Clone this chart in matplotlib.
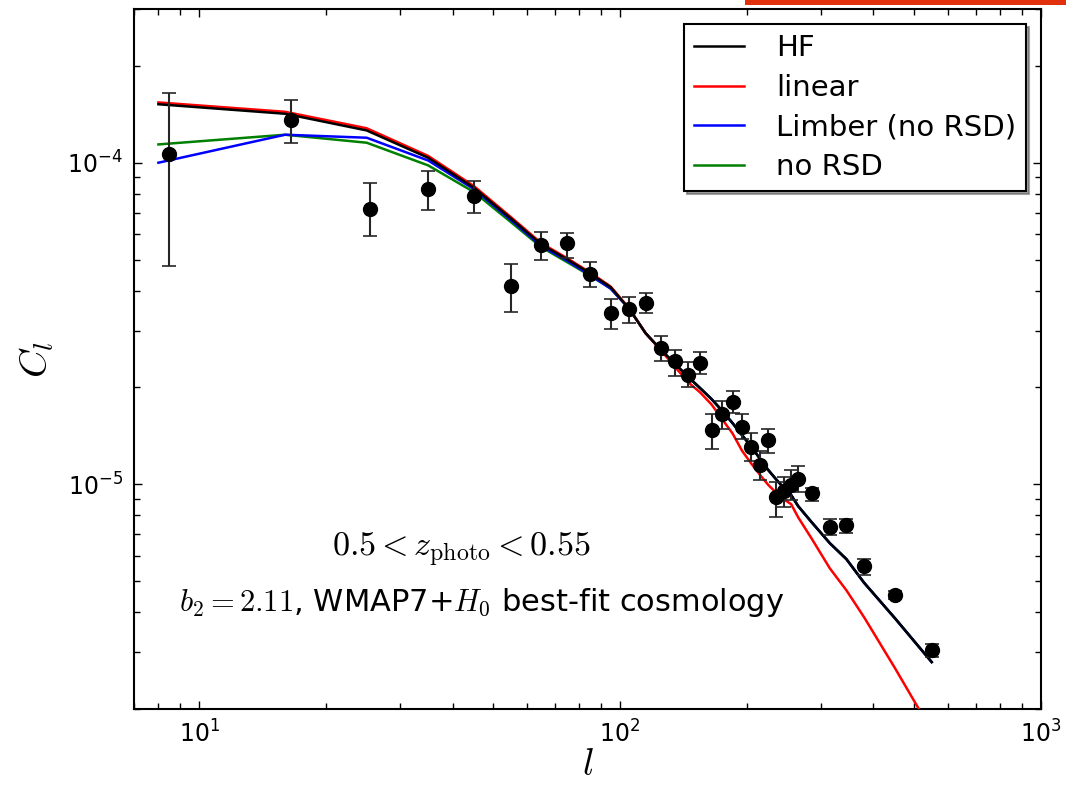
import matplotlib as mpl
mpl.use('Agg')
import matplotlib.pyplot as plt
from matplotlib.patches import Rectangle
import numpy as np

# measured angular power spectrum, one photo-z slice
ell = np.array([8.5, 16.5, 25.5, 35, 45, 55, 65, 75, 85, 95, 105, 115, 125, 135,
                145, 155, 165, 175, 185, 195, 205, 215, 225, 235, 245, 255, 265,
                285, 315, 345, 380, 450, 550])
cl = np.array([1.066e-4, 1.36e-4, 7.2e-5, 8.3e-5, 7.9e-5, 4.13e-5, 5.53e-5, 5.61e-5,
               4.5e-5, 3.4e-5, 3.5e-5, 3.67e-5, 2.65e-5, 2.41e-5, 2.19e-5, 2.39e-5,
               1.47e-5, 1.66e-5, 1.80e-5, 1.51e-5, 1.305e-5, 1.15e-5, 1.37e-5,
               9.14e-6, 9.53e-6, 9.93e-6, 1.042e-5, 9.38e-6, 7.38e-6, 7.48e-6,
               5.58e-6, 4.52e-6, 3.05e-6])
cl_lo = np.array([4.77e-5, 1.15e-4, 5.9e-5, 7.15e-5, 7.0e-5, 3.43e-5, 4.97e-5, 5.05e-5,
                  4.1e-5, 3.04e-5, 3.17e-5, 3.4e-5, 2.41e-5, 2.17e-5, 2.0e-5, 2.2e-5,
                  1.29e-5, 1.49e-5, 1.67e-5, 1.38e-5, 1.18e-5, 1.03e-5, 1.25e-5,
                  7.91e-6, 8.5e-6, 8.92e-6, 9.47e-6, 8.87e-6, 6.97e-6, 7.03e-6,
                  5.24e-6, 4.39e-6, 2.9e-6])
cl_hi = np.array([1.65e-4, 1.57e-4, 8.67e-5, 9.45e-5, 8.8e-5, 4.83e-5, 6.1e-5, 6.03e-5,
                  4.9e-5, 3.76e-5, 3.83e-5, 3.94e-5, 2.89e-5, 2.62e-5, 2.4e-5, 2.58e-5,
                  1.65e-5, 1.81e-5, 1.95e-5, 1.65e-5, 1.445e-5, 1.27e-5, 1.49e-5,
                  1.017e-5, 1.054e-5, 1.105e-5, 1.14e-5, 9.77e-6, 7.8e-6, 7.82e-6,
                  5.85e-6, 4.65e-6, 3.18e-6])

# model predictions
ell_model = np.array([8, 16, 25, 35, 45, 55, 65, 75, 85, 95, 105, 115, 125, 135,
                      145, 155, 165, 175, 185, 195, 205, 215, 225, 235, 245, 255,
                      265, 285, 315, 345, 380, 450, 550])
cl_hf = np.array([1.52e-4, 1.42e-4, 1.26e-4, 1.036e-4, 8.35e-5, 6.71e-5, 5.57e-5,
                  5.0e-5, 4.52e-5, 4.10e-5, 3.52e-5, 2.95e-5, 2.62e-5, 2.37e-5,
                  2.16e-5, 1.99e-5, 1.84e-5, 1.69e-5, 1.55e-5, 1.42e-5, 1.31e-5,
                  1.20e-5, 1.107e-5, 1.035e-5, 9.73e-6, 9.25e-6, 8.55e-6, 7.63e-6,
                  6.56e-6, 5.85e-6, 4.94e-6, 3.83e-6, 2.80e-6])
cl_lin = np.array([1.54e-4, 1.44e-4, 1.28e-4, 1.05e-4, 8.45e-5, 6.78e-5, 5.62e-5,
                   5.04e-5, 4.55e-5, 4.12e-5, 3.53e-5, 2.95e-5, 2.61e-5, 2.32e-5,
                   2.08e-5, 1.93e-5, 1.77e-5, 1.59e-5, 1.44e-5, 1.27e-5, 1.16e-5,
                   1.07e-5, 9.95e-6, 9.41e-6, 8.98e-6, 8.67e-6, 7.89e-6, 6.79e-6,
                   5.48e-6, 4.68e-6, 3.86e-6, 2.68e-6, 1.71e-6])
cl_limber = np.array([1.0e-4, 1.222e-4, 1.196e-4, 1.016e-4, 8.27e-5, 6.64e-5, 5.51e-5,
                      4.95e-5, 4.47e-5, 4.06e-5, 3.52e-5, 2.95e-5, 2.62e-5, 2.37e-5,
                      2.16e-5, 1.99e-5, 1.84e-5, 1.69e-5, 1.55e-5, 1.42e-5, 1.31e-5,
                      1.20e-5, 1.107e-5, 1.035e-5, 9.73e-6, 9.25e-6, 8.55e-6, 7.63e-6,
                      6.56e-6, 5.85e-6, 4.94e-6, 3.83e-6, 2.80e-6])
cl_norsd = np.array([1.14e-4, 1.222e-4, 1.154e-4, 9.81e-5, 8.1e-5, 6.54e-5, 5.46e-5,
                     4.9e-5, 4.45e-5, 4.06e-5, 3.52e-5, 2.95e-5, 2.62e-5, 2.37e-5,
                     2.16e-5, 1.99e-5, 1.84e-5, 1.69e-5, 1.55e-5, 1.42e-5, 1.31e-5,
                     1.20e-5, 1.107e-5, 1.035e-5, 9.73e-6, 9.25e-6, 8.55e-6, 7.63e-6,
                     6.56e-6, 5.85e-6, 4.94e-6, 3.83e-6, 2.80e-6])

plt.rcParams['font.family'] = ['DejaVu Sans']
plt.rcParams['mathtext.fontset'] = 'cm'
plt.rcParams['axes.unicode_minus'] = False
plt.rcParams['xtick.direction'] = 'in'
plt.rcParams['ytick.direction'] = 'in'
plt.rcParams['xtick.top'] = True
plt.rcParams['ytick.right'] = True

fig = plt.figure(figsize=(10.66, 7.88), dpi=100)
ax = fig.add_axes([0.1257, 0.1002, 0.8508, 0.888])

ax.plot(ell_model, cl_hf, color='k', lw=1.8, label='HF', zorder=4)
ax.plot(ell_model, cl_lin, color='r', lw=1.8, label='linear', zorder=3)
ax.plot(ell_model, cl_limber, color='b', lw=1.8, label='Limber (no RSD)', zorder=2)
ax.plot(ell_model, cl_norsd, color='g', lw=1.8, label='no RSD', zorder=1)

ax.errorbar(ell, cl, yerr=[cl - cl_lo, cl_hi - cl], fmt='o', color='k', ms=10,
            ecolor='0.15', elinewidth=1.5, capsize=5, capthick=1.2, zorder=5)

ax.set_xscale('log')
ax.set_yscale('log')
ax.set_xlim(7, 1000)
ax.set_ylim(2e-6, 3e-4)

ax.set_xlabel('$l$', fontsize=27, labelpad=0)
ax.set_ylabel('$C_l$', fontsize=28, labelpad=8)
ax.tick_params(which='major', length=6, width=1, labelsize=17, pad=8)
ax.tick_params(which='minor', length=4, width=1)
for s in ax.spines.values():
    s.set_linewidth(1.5)

ax.text(0.361, 0.218, r'$0.5 < z_{\rm photo} < 0.55$', transform=ax.transAxes,
        ha='center', va='baseline', fontsize=24.5)
ax.text(0.3836, 0.1396, r'$b_2 = 2.11$, WMAP7+$H_0$ best-fit cosmology',
        transform=ax.transAxes, ha='center', va='baseline', fontsize=22)

leg = ax.legend(loc='upper right', fontsize=21, frameon=True, fancybox=False,
                shadow=True, labelspacing=0.4, handlelength=1.7, handletextpad=1.1,
                borderpad=0.35)
leg.get_frame().set_edgecolor('k')
leg.get_frame().set_linewidth(1.5)

# orange strip along the top edge
fig.add_artist(Rectangle((745 / 1066, 1 - 5 / 788), (1066 - 745) / 1066, 5 / 788,
                         transform=fig.transFigure, color='#e0300c', lw=0))

fig.savefig('out.png', dpi=100)
